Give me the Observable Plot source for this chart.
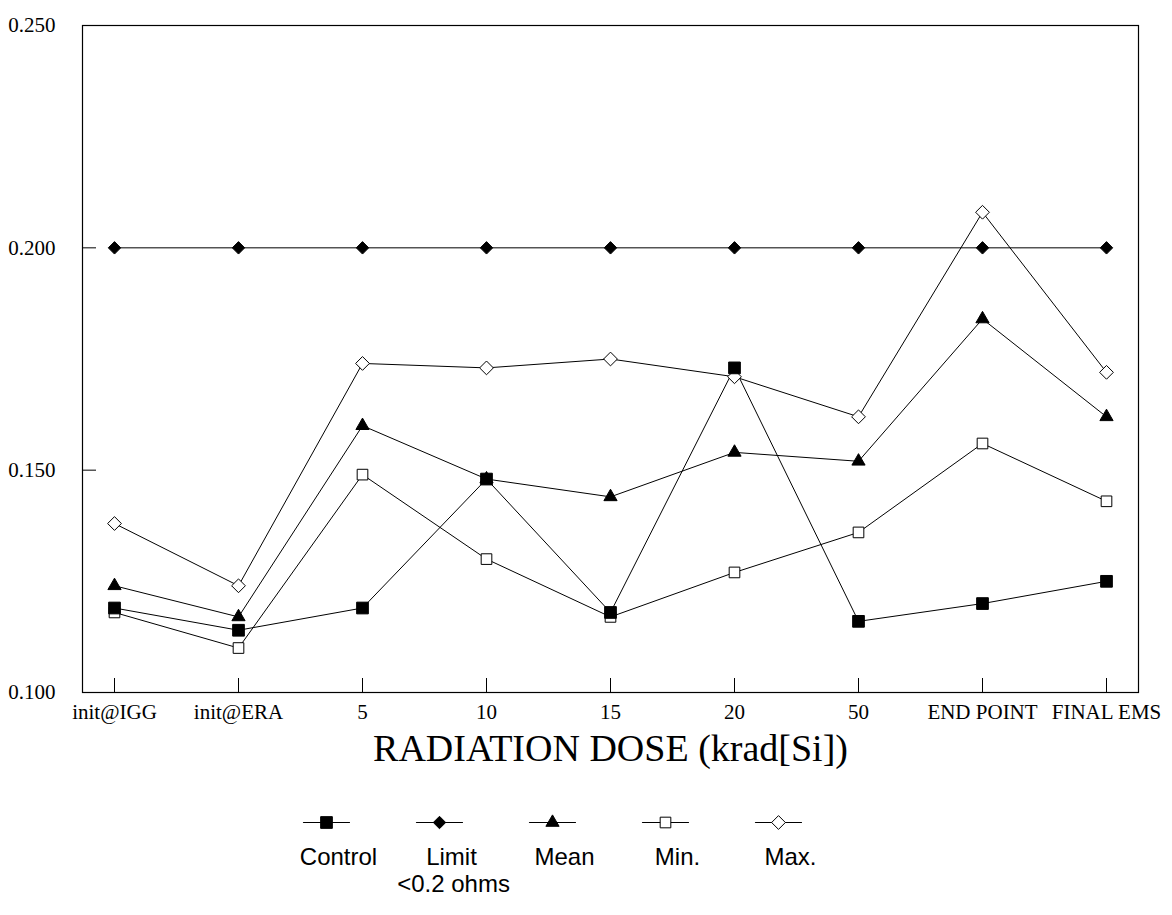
<!DOCTYPE html>
<html>
<head>
<meta charset="utf-8">
<script src="https://cdn.jsdelivr.net/npm/d3@7"></script>
<script src="https://cdn.jsdelivr.net/npm/@observablehq/plot@0.6"></script>
<style>
  html, body { margin: 0; padding: 0; background: #fff; }
  #chart svg { display: block; }
</style>
</head>
<body>
<div id="chart"></div>
<script>
// ---- data ----
const categories = ["init@IGG", "init@ERA", "5", "10", "15", "20", "50", "END POINT", "FINAL EMS"];
const control = [0.119, 0.114, 0.119, 0.148, 0.118, 0.173, 0.116, 0.120, 0.125];
const limit   = [0.200, 0.200, 0.200, 0.200, 0.200, 0.200, 0.200, 0.200, 0.200];
const mean    = [0.124, 0.117, 0.160, 0.148, 0.144, 0.154, 0.152, 0.184, 0.162];
const minV    = [0.118, 0.110, 0.149, 0.130, 0.117, 0.127, 0.136, 0.156, 0.143];
const maxV    = [0.138, 0.124, 0.174, 0.173, 0.175, 0.171, 0.162, 0.208, 0.172];
const yTicks  = [0.100, 0.150, 0.200, 0.250];
const xTitle  = "RADIATION DOSE (krad[Si])";
const seriesNames = ["Control", "Limit", "Mean", "Min.", "Max."];
const seriesSub   = ["", "<0.2 ohms", "", "", ""];

// ---- layout ----
const W = 1172, H = 780, mT = 25, mL = 82, mR = 34, mB = 88, tickLen = 14;
const frameW = W - mL - mR, frameH = H - mT - mB;

// ---- build tables ----
const toRows = (vals) => categories.map((c, i) => ({cat: c, v: vals[i]}));
const series = [
  {name: "Max.",    rows: toRows(maxV),    symbol: "diamond2", fill: "white", r: 6.2},
  {name: "Min.",    rows: toRows(minV),    symbol: "square",   fill: "white", r: 6.0},
  {name: "Mean",    rows: toRows(mean),    symbol: "triangle", fill: "black", r: 4.9},
  {name: "Limit",   rows: toRows(limit),   symbol: "diamond2", fill: "black", r: 5.6},
  {name: "Control", rows: toRows(control), symbol: "square",   fill: "black", r: 6.6}
];
const styleOf = Object.fromEntries(series.map(s => [s.name, s]));

const marks = [];
for (const s of series) {
  marks.push(Plot.line(s.rows, {x: "cat", y: "v", stroke: "black", strokeWidth: 1}));
}
for (const s of series) {
  marks.push(Plot.dot(s.rows, {x: "cat", y: "v", symbol: s.symbol, r: s.r,
    fill: s.fill, stroke: "black", strokeWidth: 1}));
}

const main = Plot.plot({
  width: W,
  height: H,
  marginTop: mT,
  marginLeft: mL,
  marginRight: mR,
  marginBottom: mB,
  style: {fontFamily: "'Liberation Serif', 'Times New Roman', serif", background: "white", color: "black"},
  x: {type: "point", domain: categories, padding: 0.25},
  y: {domain: [0.1, 0.25]},
  marks: [
    Plot.frame({stroke: "black", strokeWidth: 1.2}),
    // inward tick marks
    Plot.ruleX(categories, {x: d => d, insetTop: frameH - tickLen, stroke: "black", strokeWidth: 1}),
    Plot.ruleY(yTicks, {y: d => d, insetRight: frameW - tickLen, stroke: "black", strokeWidth: 1}),
    // tick labels
    Plot.axisX({tickSize: 0, tickPadding: 12, fontSize: 21, label: null}),
    Plot.axisY({ticks: yTicks, tickSize: 0, tickPadding: 27, fontSize: 21,
      tickFormat: d3.format(".3f"), label: null}),
    Plot.text([xTitle], {text: d => d, frameAnchor: "bottom", dy: 56, fontSize: 38,
      fill: "black", lineAnchor: "middle"}),
    ...marks
  ]
});

// ---- legend ----
const lineShape = {draw(context, l) { context.moveTo(0, 0); context.lineTo(0, -l); }};
const legendRows = seriesNames.map((n, i) => ({name: n, sub: seriesSub[i]}));
const legend = Plot.plot({
  width: W,
  height: 135,
  marginTop: 0,
  marginBottom: 0,
  marginLeft: 325,
  marginRight: 394,
  style: {fontFamily: "'Liberation Sans', Arial, sans-serif", background: "white", color: "black"},
  x: {type: "point", domain: seriesNames, padding: 0, axis: null},
  marks: [
    Plot.vector(legendRows, {x: "name", frameAnchor: "top", dy: 42, length: 46, rotate: 90,
      anchor: "middle", shape: lineShape, stroke: "black", strokeWidth: 1.2}),
    ...seriesNames.map(n => Plot.dot(legendRows.filter(d => d.name === n), {
      x: "name", frameAnchor: "top", dy: 42, symbol: styleOf[n].symbol, r: styleOf[n].r,
      fill: styleOf[n].fill, stroke: "black", strokeWidth: 1})),
    Plot.text(legendRows, {x: "name", text: "name", frameAnchor: "top", dy: 77, dx: 12,
      fontSize: 24, fill: "black", lineAnchor: "middle"}),
    Plot.text(legendRows, {x: "name", text: "sub", frameAnchor: "top", dy: 104, dx: 14,
      fontSize: 24, fill: "black", lineAnchor: "middle"})
  ]
});

const chart = document.getElementById("chart");
chart.appendChild(main);
chart.appendChild(legend);
</script>
</body>
</html>
